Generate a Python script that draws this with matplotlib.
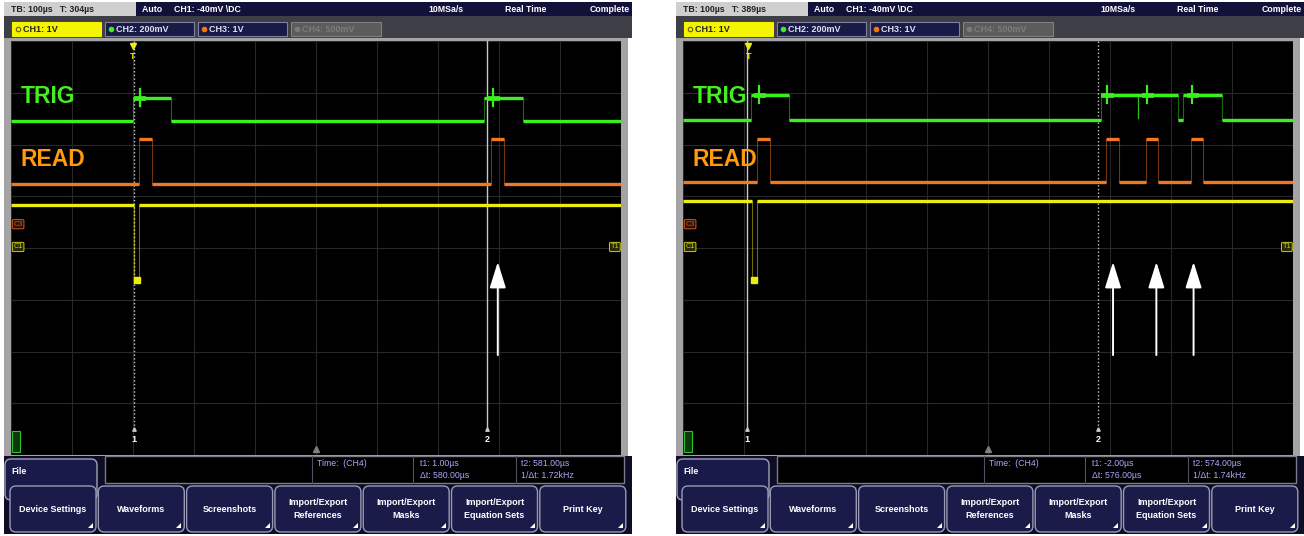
import numpy as np
import matplotlib
matplotlib.use("Agg")
import matplotlib.pyplot as plt
from matplotlib.patches import Rectangle, FancyBboxPatch, FancyArrowPatch

plt.rcParams['font.family'] = ['Liberation Sans', 'DejaVu Sans']

W, H = 1304, 536

# ---------------- data (time in µs, amplitude in screen divisions) ----------------
# Left capture
L_TB = "TB: 100µs   T: 304µs"
L_XLIM = (-200, 800)
L_TRIG_EDGES = [0, 62, 575, 639]
L_TRIG_LEVELS = [2.45, 2.90, 2.45, 2.90, 2.45]
L_TRIG_SPIKES = [11, 590]
L_TRIG_DIPS = []
L_READ_EDGES = [10, 31, 587, 608]
L_READ_LEVELS = [1.24, 2.11, 1.24, 2.11, 1.24]
L_CH1_EDGES = [2, 10]
L_CH1_LEVELS = [0.83, -0.62, 0.83]
L_CURSORS = [1.0, 581.0]
L_ARROWS = [598]
L_MEAS = ["t1: 1.00µs", "Δt: 580.00µs", "t2: 581.00µs", "1/Δt: 1.72kHz"]

# Right capture
R_TB = "TB: 100µs   T: 389µs"
R_XLIM = (-107, 893)
R_TRIG_EDGES = [4, 67, 579, 705, 713, 777]
R_TRIG_LEVELS = [2.47, 2.96, 2.47, 2.96, 2.47, 2.96, 2.47]
R_TRIG_SPIKES = [18, 588, 654, 728]
R_TRIG_DIPS = [639]
R_READ_EDGES = [15, 36, 587, 608, 652, 672, 725, 746]
R_READ_LEVELS = [1.28, 2.11, 1.28, 2.11, 1.28, 2.11, 1.28, 2.11, 1.28]
R_CH1_EDGES = [6, 14]
R_CH1_LEVELS = [0.91, -0.62, 0.91]
R_CURSORS = [-2.0, 574.0]
R_ARROWS = [598, 669, 730]
R_MEAS = ["t1: -2.00µs", "Δt: 576.00µs", "t2: 574.00µs", "1/Δt: 1.74kHz"]

BUTTONS = ["Device Settings", "Waveforms", "Screenshots", "Import/Export\nReferences",
           "Import/Export\nMasks", "Import/Export\nEquation Sets", "Print Key"]
CH_TABS = ["CH1: 1V", "CH2: 200mV", "CH3: 1V", "CH4: 500mV"]

GREEN = '#3cf020'
ORANGE = '#f07820'
YELLOW = '#ecec10'
LAV = '#a8a8ff'

fig = plt.figure(figsize=(W / 100, H / 100), dpi=100)
fig.patch.set_facecolor('white')
bg = fig.add_axes([0, 0, 1, 1])
bg.set_xlim(0, W)
bg.set_ylim(H, 0)
bg.axis('off')


def rect(x0, y0, x1, y1, **kw):
    bg.add_patch(Rectangle((x0, y0), x1 - x0, y1 - y0, **kw))


def rbox(x0, y0, x1, y1, r=5, **kw):
    bg.add_patch(FancyBboxPatch((x0, y0), x1 - x0, y1 - y0,
                                boxstyle=f"round,pad=0,rounding_size={r}", **kw))


def draw_step(ax, edges, levels, xlim, color, lw=2.4):
    xs = [xlim[0]] + list(edges) + [xlim[1]]
    for i, lev in enumerate(levels):
        ax.plot([xs[i], xs[i + 1]], [lev, lev], color=color, lw=lw,
                solid_capstyle='butt', zorder=5)
    for i, e in enumerate(edges):
        ax.plot([e, e], [levels[i], levels[i + 1]], color=color, lw=0.8,
                alpha=0.45, zorder=4)


def screenshot(ox, tb, xlim, trig_e, trig_l, spikes, dips, read_e, read_l,
               ch1_e, ch1_l, cursors, arrows, meas, cur_styles):
    # ---- status bar
    rect(ox + 4, 2, ox + 136, 16, fc='#cfcfcf', ec='none')
    rect(ox + 136, 2, ox + 632, 16, fc='#11113a', ec='none')
    bg.text(ox + 11, 9.5, tb, fontsize=6.3, color='#202020', va='center', fontweight='bold')
    bg.text(ox + 142, 9.5, "Auto     CH1: -40mV \\DC", fontsize=6.3, color='white',
            va='center', fontweight='bold')
    bg.text(ox + 428, 9.5, "10MSa/s", fontsize=6.3, color='white', va='center', fontweight='bold')
    bg.text(ox + 505, 9.5, "Real Time", fontsize=6.3, color='white', va='center', fontweight='bold')
    bg.text(ox + 630, 9.5, "Complete", fontsize=6.3, color='white', va='center',
            ha='right', fontweight='bold')
    # ---- channel bar
    rect(ox + 4, 16, ox + 632, 38, fc='#3e3e46', ec='none')
    tabs = [(12, 101), (105, 194), (198, 287), (291, 381)]
    for k, ((a, b), lab) in enumerate(zip(tabs, CH_TABS)):
        if k == 0:
            fc, ec, tc = '#f4f400', '#f4f400', '#202020'
        elif k == 3:
            fc, ec, tc = '#5c5c5c', '#808080', '#7c7c7c'
        else:
            fc, ec, tc = '#1a1a48', '#8080a0', '#e0e0f0'
        rect(ox + a, 22, ox + b, 36, fc=fc, ec=ec, lw=0.8)
        dot = ['#f4f400', GREEN, ORANGE, '#7c7c7c'][k]
        bg.plot(ox + a + 6, 29, 'o', ms=3.2, mfc=dot if k else 'none',
                mec='#606000' if k == 0 else dot, mew=0.8)
        bg.text(ox + a + 11, 29.3, lab, fontsize=6.5, color=tc, va='center',
                fontweight='bold')
    # ---- screen frame
    rect(ox + 4, 38, ox + 628, 456, fc='#a4a4a4', ec='none')
    # ---- bottom area
    rect(ox + 4, 456, ox + 632, 534, fc='#0d0d26', ec='none')
    rect(ox + 105, 456, ox + 624, 483, fc='black', ec='#7a7a8a', lw=1)
    for xd in (312, 413, 516):
        bg.plot([ox + xd, ox + xd], [456, 483], color='#505060', lw=0.8)
    bg.text(ox + 317, 464, "Time:  (CH4)", fontsize=6.3, color=LAV, va='center')
    bg.text(ox + 420, 464, meas[0], fontsize=6.3, color=LAV, va='center')
    bg.text(ox + 420, 476, meas[1], fontsize=6.3, color=LAV, va='center')
    bg.text(ox + 521, 464, meas[2], fontsize=6.3, color=LAV, va='center')
    bg.text(ox + 521, 476, meas[3], fontsize=6.3, color=LAV, va='center')
    # File tab
    rbox(ox + 5, 459, ox + 97, 500, r=6, fc='#1a1a4a', ec='#a0a0b8', lw=1)
    bg.text(ox + 11, 471, "File", fontsize=6.3, color='white', va='center', fontweight='bold')
    # buttons
    for i, lab in enumerate(BUTTONS):
        x0 = ox + 10 + i * 88.3
        x1 = x0 + 86
        rbox(x0, 486, x1, 532, r=6, fc='#1b1b4a', ec='#9a9ab8', lw=1)
        bg.text((x0 + x1) / 2, 509, lab, fontsize=6.5, color='white', ha='center',
                va='center', fontweight='bold', linespacing=1.7)
        bg.fill([x1 - 8, x1 - 3, x1 - 3], [528, 528, 523], color='white', lw=0)

    # ---- oscilloscope screen
    x0, x1, y0, y1 = ox + 11, ox + 621, 41, 455
    ax = fig.add_axes([x0 / W, 1 - y1 / H, (x1 - x0) / W, (y1 - y0) / H])
    ax.set_facecolor('black')
    ax.set_xlim(*xlim)
    ax.set_ylim(-4, 4)
    ax.set_xticks(np.arange(xlim[0], xlim[1] + 1, 100))
    ax.set_yticks(np.arange(-4, 5, 1))
    ax.grid(True, color='#282828', lw=0.8)
    ax.tick_params(length=0, labelbottom=False, labelleft=False)
    for s in ax.spines.values():
        s.set_visible(False)

    draw_step(ax, trig_e, trig_l, xlim, GREEN)
    hi = max(trig_l)
    for t in spikes:
        ax.plot([t, t], [hi - 0.16, hi + 0.18], color=GREEN, lw=1.6, zorder=6)
        ax.plot([t - 6, t + 6], [hi, hi], color=GREEN, lw=3.4, zorder=6)
    lo = min(trig_l)
    for t in dips:
        ax.plot([t, t], [hi, lo + 0.05], color=GREEN, lw=0.9, alpha=0.8, zorder=6)
    draw_step(ax, read_e, read_l, xlim, ORANGE)
    draw_step(ax, ch1_e, ch1_l, xlim, YELLOW)
    low = min(ch1_l)
    ax.plot(np.mean(ch1_e), low, 's', color=YELLOW, ms=4, zorder=6)

    # cursors
    for c, ls, lab in zip(cursors, cur_styles, ['1', '2']):
        ax.plot([c, c], [-3.5, 4], color='#c8c8c8', lw=1.0, ls=ls, zorder=3)
        ax.plot(c, -3.5, '^', color='#c8c8c8', ms=2.5, zorder=3)
        ax.text(c, -3.7, lab, fontsize=6.5, color='white', ha='center', va='center',
                fontweight='bold')
    # trigger marker
    ax.plot(0, 3.9, 'v', color=YELLOW, ms=5, zorder=7, clip_on=False)
    ax.text(0, 3.71, 'T', fontsize=6.5, color=YELLOW, ha='center', va='center',
            fontweight='bold')
    # centre marker
    ax.plot(np.mean(xlim), -3.88, '^', color='#808080', ms=5, zorder=3)
    # arrows
    for a in arrows:
        ax.add_patch(FancyArrowPatch((a, -2.07), (a, -0.27),
                                     arrowstyle='-|>,head_length=16,head_width=5',
                                     mutation_scale=1, color='white', lw=1.4,
                                     shrinkA=0, shrinkB=0, zorder=8))
    # channel tags
    ytr = ax.get_yaxis_transform()
    ax.text(0.004, 0.46, 'C3', transform=ytr, fontsize=5.3, color='#c85a18', va='center',
            bbox=dict(boxstyle='round,pad=0.15', fc='#301000', ec='#c85a18', lw=0.7))
    ax.text(0.004, 0.02, 'C1', transform=ytr, fontsize=5.3, color='#c8c818', va='center',
            bbox=dict(boxstyle='round,pad=0.15', fc='#2a2a00', ec='#c8c818', lw=0.7))
    ax.text(0.997, 0.02, 'T1', transform=ytr, fontsize=5.3, color='#c8c818', va='center',
            ha='right', bbox=dict(boxstyle='round,pad=0.15', fc='#2a2a00', ec='#c8c818', lw=0.7))
    ax.add_patch(Rectangle((0.002, 0.007), 0.013, 0.05, transform=ax.transAxes,
                           fc='#0a3a0a', ec='#30c030', lw=0.8, clip_on=False))
    # labels
    ax.text(0.016, 0.865, 'TRIG', transform=ax.transAxes, fontsize=16.5, color='#44ee22',
            fontweight='bold', va='center')
    ax.text(0.016, 0.713, 'READ', transform=ax.transAxes, fontsize=16.5, color='#ff9a10',
            fontweight='bold', va='center')


screenshot(0, L_TB, L_XLIM, L_TRIG_EDGES, L_TRIG_LEVELS, L_TRIG_SPIKES, L_TRIG_DIPS,
           L_READ_EDGES, L_READ_LEVELS, L_CH1_EDGES, L_CH1_LEVELS, L_CURSORS, L_ARROWS,
           L_MEAS, [':', '-'])
screenshot(672, R_TB, R_XLIM, R_TRIG_EDGES, R_TRIG_LEVELS, R_TRIG_SPIKES, R_TRIG_DIPS,
           R_READ_EDGES, R_READ_LEVELS, R_CH1_EDGES, R_CH1_LEVELS, R_CURSORS, R_ARROWS,
           R_MEAS, ['-', ':'])

fig.savefig('out.png', dpi=100, facecolor='white')
